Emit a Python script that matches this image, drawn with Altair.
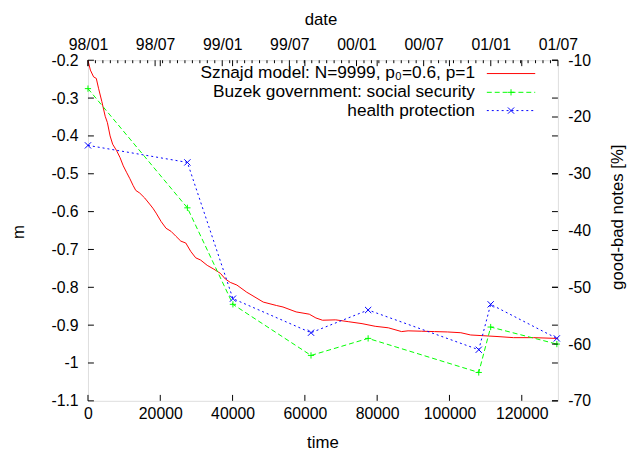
import altair as alt
import pandas as pd

# ---------------- data ----------------
red_t = [0, 660, 1560, 2300, 2920, 3830, 4760, 5380, 6120, 6830, 7930, 8860, 9760, 10660,
         11590, 12490, 13230, 14320, 15690, 17050, 17960, 18860, 20220, 21590, 22960, 24320,
         25690, 27060, 28420, 29790, 31160, 32990, 34820, 36620, 37990, 39360, 41190, 43920,
         44820, 48480, 52120, 53950, 57590, 61220, 63050, 64880, 68520, 72150, 75810, 79450,
         83090, 86750, 88550, 92210, 95850, 99480, 103150, 105880, 109520, 113150, 117710,
         123180, 129540, 130000]
red_m = [-0.200, -0.226, -0.244, -0.248, -0.274, -0.309, -0.348, -0.365, -0.400, -0.422,
         -0.439, -0.457, -0.479, -0.496, -0.513, -0.531, -0.544, -0.551, -0.564, -0.580,
         -0.591, -0.604, -0.626, -0.644, -0.652, -0.665, -0.678, -0.683, -0.705, -0.722,
         -0.728, -0.742, -0.752, -0.763, -0.778, -0.787, -0.794, -0.813, -0.818, -0.839,
         -0.848, -0.852, -0.865, -0.871, -0.881, -0.887, -0.886, -0.891, -0.896, -0.903,
         -0.907, -0.917, -0.915, -0.916, -0.917, -0.918, -0.920, -0.926, -0.928, -0.930,
         -0.933, -0.933, -0.935, -0.935]

buzek_t = [0, 27500, 40100, 61700, 77500, 108100, 111400, 129700]
social = [-15, -36, -53, -62, -59, -65, -57, -60]
health = [-25, -28, -52, -58, -54, -61, -53, -59]

time_ticks = [0, 20000, 40000, 60000, 80000, 100000, 120000]
m_ticks = [-1.1, -1.0, -0.9, -0.8, -0.7, -0.6, -0.5, -0.4, -0.3, -0.2]
pct_ticks = [-70, -60, -50, -40, -30, -20, -10]
date_labels = ["98/01", "98/07", "99/01", "99/07", "00/01", "00/07", "01/01", "01/07"]
T_MAX = 130000
N_MINOR = 9
date_ticks = [i * T_MAX / (len(date_labels) - 1) for i in range(len(date_labels))]
step = T_MAX / (len(date_labels) - 1) / N_MINOR
minor_ticks = [k * step for k in range(1, (len(date_labels) - 1) * N_MINOR) if k % N_MINOR]

legend_labels = ["Sznajd model: N=9999, p\u2080=0.6, p=1",
                 "Buzek government: social security",
                 "health protection"]
x_title, x2_title, y_title, y2_title = "time", "date", "m", "good-bad notes [%]"

# ---------------- layout / style ----------------
W, H = 476, 345
FONT = "Liberation Sans"
FS_TICK = 16
FS_TEXT = 17.5
FS_TITLE = 17
TICK = 6
RED, GREEN, BLUE = "#ff0000", "#00ff00", "#0000ff"
PLUS = "M-1,0L1,0M0,-1L0,1"
CROSS = "M-1,-1L1,1M-1,1L1,-1"

xs = alt.Scale(domain=[0, T_MAX], nice=False, zero=False)
ysl = alt.Scale(domain=[-1.1, -0.2], nice=False, zero=False)
ysr = alt.Scale(domain=[-70, -10], nice=False, zero=False)

ax_common = dict(ticks=False, tickSize=0, domain=False, grid=False, title=None,
                 labelFont=FONT, labelFontSize=FS_TICK, labelColor="black",
                 labelOverlap=False, labelFlush=False)

red_df = pd.DataFrame({"t": red_t, "m": red_m})
buz_df = pd.DataFrame({"t": buzek_t, "social": social, "health": health})
one = pd.DataFrame({"k": [0]})

red = alt.Chart(red_df).mark_line(color=RED, strokeWidth=1).encode(
    x=alt.X("t:Q", scale=xs, axis=alt.Axis(orient="bottom", values=time_ticks,
                                             labelExpr="'' + datum.value",
                                             labelPadding=5, **ax_common)),
    y=alt.Y("m:Q", scale=ysl, axis=alt.Axis(orient="left", values=m_ticks,
                                              labelExpr="'' + datum.value",
                                              labelPadding=10, **ax_common)),
)

green_line = alt.Chart(buz_df).mark_line(color=GREEN, strokeWidth=1, strokeDash=[5, 3]).encode(
    x=alt.X("t:Q", scale=xs, axis=None),
    y=alt.Y("social:Q", scale=ysr, axis=alt.Axis(orient="right", values=pct_ticks,
                                                   labelExpr="'' + datum.value",
                                                   labelPadding=10, **ax_common)),
)
green_pts = alt.Chart(buz_df).mark_point(shape=PLUS, filled=False, color=GREEN,
                                         strokeWidth=1, size=40, opacity=1).encode(
    x=alt.X("t:Q", scale=xs, axis=None),
    y=alt.Y("social:Q", scale=ysr, axis=None),
)
blue_line = alt.Chart(buz_df).mark_line(color=BLUE, strokeWidth=1, strokeDash=[2, 3]).encode(
    x=alt.X("t:Q", scale=xs, axis=None),
    y=alt.Y("health:Q", scale=ysr, axis=None),
)
blue_pts = alt.Chart(buz_df).mark_point(shape=CROSS, filled=False, color=BLUE,
                                        strokeWidth=1, size=40, opacity=1).encode(
    x=alt.X("t:Q", scale=xs, axis=None),
    y=alt.Y("health:Q", scale=ysr, axis=None),
)

# ---- inward tick marks (gnuplot style) ----
tt_df = pd.DataFrame({"t": time_ticks})
dt_df = pd.DataFrame({"t": date_ticks})
mn_df = pd.DataFrame({"t": minor_ticks})
mt_df = pd.DataFrame({"v": m_ticks})
pt_df = pd.DataFrame({"v": pct_ticks})

rule = dict(color="black", strokeWidth=1)
bottom_ticks = alt.Chart(tt_df).mark_rule(**rule).encode(
    x=alt.X("t:Q", scale=xs, axis=None), y=alt.value(H), y2=alt.value(H - TICK))
top_mirror_ticks = alt.Chart(tt_df).mark_rule(**rule).encode(
    x=alt.X("t:Q", scale=xs, axis=None), y=alt.value(0), y2=alt.value(TICK))
top_minor_ticks = alt.Chart(mn_df).mark_rule(**rule).encode(
    x=alt.X("t:Q", scale=xs, axis=None), y=alt.value(0), y2=alt.value(TICK / 2))
top_date_ticks = alt.Chart(dt_df).mark_rule(**rule).encode(
    x=alt.X("t:Q", scale=xs, axis=alt.Axis(
        orient="top", values=date_ticks,
        labelExpr="[" + ",".join("'%s'" % d for d in date_labels) + "]"
                  "[round(datum.value * %d / %d)]" % (len(date_labels) - 1, T_MAX),
        labelPadding=8, **ax_common)),
    y=alt.value(0), y2=alt.value(TICK))
left_ticks = alt.Chart(mt_df).mark_rule(**rule).encode(
    y=alt.Y("v:Q", scale=ysl, axis=None), x=alt.value(0), x2=alt.value(TICK))
right_mirror_ticks = alt.Chart(mt_df).mark_rule(**rule).encode(
    y=alt.Y("v:Q", scale=ysl, axis=None), x=alt.value(W - TICK), x2=alt.value(W))
right_ticks = alt.Chart(pt_df).mark_rule(**rule).encode(
    y=alt.Y("v:Q", scale=ysr, axis=None), x=alt.value(W - TICK), x2=alt.value(W))

# ---- axis titles ----
def label(text, x, y, angle=0, align="center", size=FS_TITLE):
    return alt.Chart(pd.DataFrame({"s": [text]})).mark_text(
        font=FONT, fontSize=size, color="black", align=align, baseline="middle",
        angle=angle).encode(x=alt.value(x), y=alt.value(y), text="s:N")

titles = [
    label(x_title, 238, 388),
    label(x2_title, 236, -41),
    label(y_title, -70, 174, angle=270),
    label(y2_title, 537, 159, angle=270),
]

# ---- legend (gnuplot key, top right inside) ----
LX_TEXT, LX1, LX2 = 392, 404, 453
rows_y = [13.5, 32.5, 51]
legend = []
for lab, yy, col, dash, shape in zip(legend_labels, rows_y, [RED, GREEN, BLUE],
                                     [None, [5, 3], [2, 3]], [None, PLUS, CROSS]):
    legend.append(label(lab, LX_TEXT, yy, align="right", size=FS_TEXT))
    kw = dict(color=col, strokeWidth=1)
    if dash:
        kw["strokeDash"] = dash
    legend.append(alt.Chart(one).mark_rule(**kw).encode(
        x=alt.value(LX1), x2=alt.value(LX2), y=alt.value(yy)))
    if shape:
        legend.append(alt.Chart(one).mark_point(shape=shape, filled=False, color=col,
                                                strokeWidth=1, size=40, opacity=1).encode(
            x=alt.value((LX1 + LX2) / 2), y=alt.value(yy)))

chart = alt.layer(
    red, green_line, green_pts, blue_line, blue_pts,
    bottom_ticks, top_mirror_ticks, top_minor_ticks, top_date_ticks,
    left_ticks, right_mirror_ticks, right_ticks,
    *titles, *legend,
).resolve_scale(x="independent", y="independent").properties(
    width=W, height=H,
    autosize=alt.AutoSizeParams(type="none"),
    padding={"left": 81, "top": 50, "right": 72, "bottom": 56},
).configure_view(stroke="black", strokeWidth=1).configure(background="white")

chart.save("out.html", embed_options={"renderer": "svg", "actions": False})
